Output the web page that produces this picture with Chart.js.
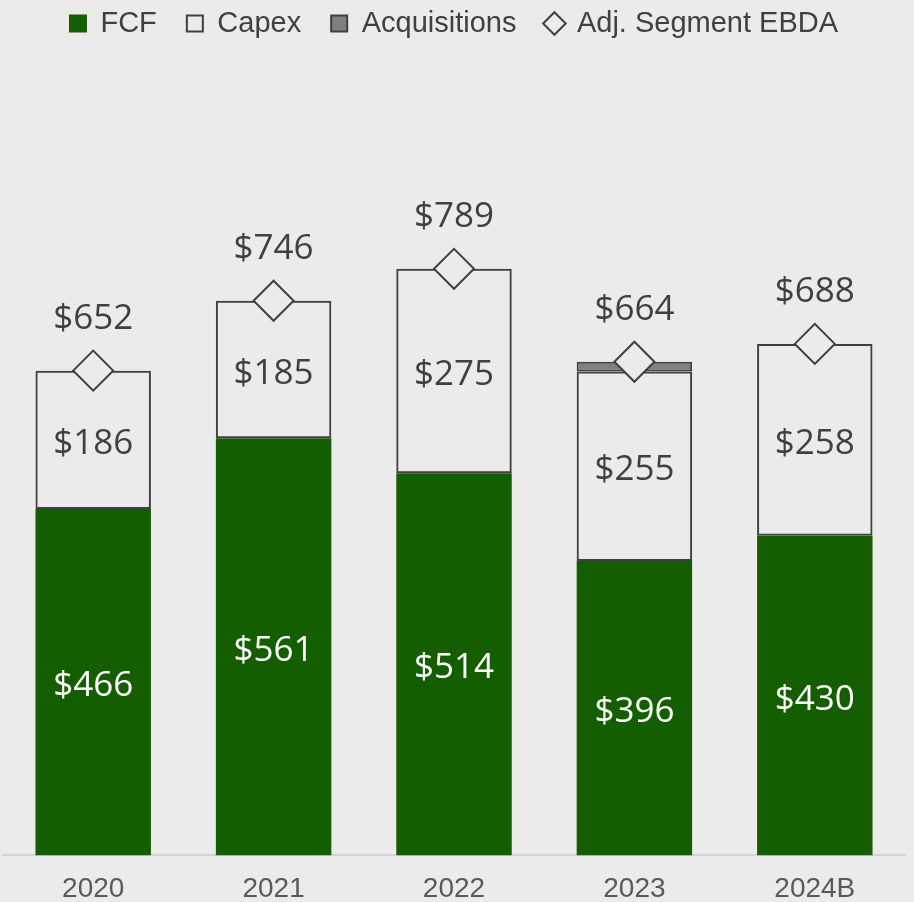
<!DOCTYPE html>
<html>
<head>
<meta charset="utf-8">
<script src="https://cdn.jsdelivr.net/npm/chart.js@4.4.1/dist/chart.umd.min.js"></script>
<style>
  html, body { margin: 0; padding: 0; background: #ebebeb; }
  #wrap { width: 914px; height: 902px; position: relative; }
</style>
</head>
<body>
<div id="wrap"><canvas id="cfChart"></canvas></div>
<script>
// Cash flow bars: FCF + Capex + Acquisitions, with Adj. Segment EBDA marker
const years = ["2020", "2021", "2022", "2023", "2024B"];
const fcf = [466, 561, 514, 396, 430];
const capex = [186, 185, 275, 255, 258];
const acquisitions = [0, 0, 0, 13, 0];
const ebda = [652, 746, 789, 664, 688];

const BG = "#ebebeb";
const DARK = "#404040";

// draws the $ labels on bars and above the diamonds
const valueLabels = {
  id: "valueLabels",
  afterDatasetsDraw(chart) {
    const ctx = chart.ctx;
    ctx.save();
    ctx.font = "35px 'Open Sans'";
    ctx.textAlign = "center";
    ctx.textBaseline = "middle";
    chart.data.datasets.forEach((ds, i) => {
      const meta = chart.getDatasetMeta(i);
      if (ds.label === "Acquisitions") return;
      meta.data.forEach((el, j) => {
        const v = ds.data[j];
        if (!v) return;
        if (ds.type === "line") {
          ctx.fillStyle = DARK;
          ctx.fillText("$" + v, el.x, el.y - 52);
        } else {
          ctx.fillStyle = ds.label === "FCF" ? "#ffffff" : DARK;
          ctx.fillText("$" + v, el.x, (el.y + el.base) / 2 + 4);
        }
      });
    });
    ctx.restore();
  }
};

const ctx = document.getElementById("cfChart");
new Chart(ctx, {
  data: {
    labels: years,
    datasets: [
      {
        type: "line",
        label: "Adj. Segment EBDA",
        data: ebda,
        showLine: false,
        pointStyle: "rectRot",
        pointRadius: 20,
        pointHoverRadius: 20,
        pointBackgroundColor: BG,
        pointBorderColor: DARK,
        pointBorderWidth: 2,
        order: 0,
      },
      {
        type: "bar",
        label: "FCF",
        data: fcf,
        backgroundColor: "#155e00",
        borderWidth: 0,
        order: 1,
      },
      {
        type: "bar",
        label: "Capex",
        data: capex,
        backgroundColor: "rgba(0,0,0,0)",
        borderColor: DARK,
        borderWidth: 2,
        borderSkipped: false,
        order: 1,
      },
      {
        type: "bar",
        label: "Acquisitions",
        data: acquisitions,
        backgroundColor: "#808080",
        borderColor: DARK,
        borderWidth: 2,
        borderSkipped: false,
        order: 1,
      },
    ],
  },
  options: {
    responsive: true,
    maintainAspectRatio: false,
    animation: false,
    layout: { autoPadding: false, padding: { left: 3, right: 9, top: -21, bottom: -21 } },
    datasets: {
      bar: { categoryPercentage: 1, barPercentage: 0.64 },
    },
    plugins: {
      tooltip: { enabled: false },
      legend: {
        position: "top",
        labels: {
          font: { family: "'Liberation Sans', Arial", size: 29 },
          color: DARK,
          padding: 30,
          usePointStyle: true,
          boxWidth: 16,
          boxHeight: 16,
          generateLabels(chart) {
            const order = [1, 2, 3, 0];
            return order.map((i) => {
              const ds = chart.data.datasets[i];
              return {
                text: ds.label,
                datasetIndex: i,
                pointStyle: ds.type === "line" ? "rectRot" : "rect",
                fillStyle: ds.type === "line" ? BG : (ds.label === "Capex" ? BG : ds.backgroundColor),
                strokeStyle: ds.label === "FCF" ? ds.backgroundColor : DARK,
                lineWidth: 2,
                fontColor: DARK,
              };
            });
          },
        },
      },
    },
    scales: {
      x: {
        stacked: true,
        grid: { display: false, drawTicks: false },
        border: { display: true, color: "#d4d4d4", width: 2 },
        ticks: {
          color: "#595959",
          font: { family: "'Liberation Sans', Arial", size: 28 },
          padding: 17,
        },
      },
      y: {
        stacked: true,
        display: false,
        min: 0,
        max: 1086,
      },
    },
  },
  plugins: [valueLabels],
});
</script>
</body>
</html>
